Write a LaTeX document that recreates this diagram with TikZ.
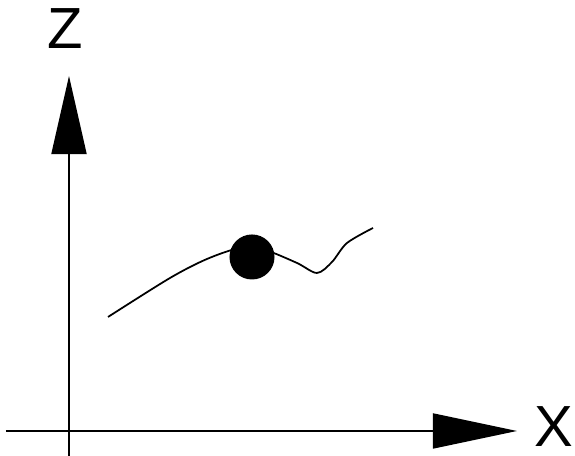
\documentclass[tikz,border=0pt]{standalone}
\usepackage{fontspec}
\setmainfont{Liberation Sans}
\usetikzlibrary{arrows.meta, positioning}

\begin{document}
\begin{tikzpicture}[x=0.01cm, y=-0.01cm,
  axisline/.style={line width=0.5pt},
  lbl/.style={inner sep=0pt, font=\fontsize{16.5}{16.5}\selectfont}]
  \useasboundingbox (0,0) rectangle (575,456);
  % axes
  \coordinate (xstart) at (6,431);
  \coordinate (xend) at (517,431);
  \coordinate (zstart) at (69,456);
  \coordinate (zend) at (69,76);
  \draw[axisline, -{Triangle[length=0.84cm, width=0.35cm]}] (xstart) -- (xend);
  \draw[axisline, -{Triangle[length=0.78cm, width=0.35cm]}] (zstart) -- (zend);
  \node[lbl] (zlabel) at (65,29) {Z};
  \node[lbl] (xlabel) at (554,427) {X};
  % trajectory and mass
  \draw[line width=0.5pt] plot[smooth] coordinates {(108,317) (170,278) (207,259) (240,248)
    (265,250) (297,263) (317,273) (332,262) (347,243) (373,228)};
  \node[circle, fill, inner sep=0pt, minimum size=0.45cm] (mass) at (252,257) {};
\end{tikzpicture}
\end{document}
